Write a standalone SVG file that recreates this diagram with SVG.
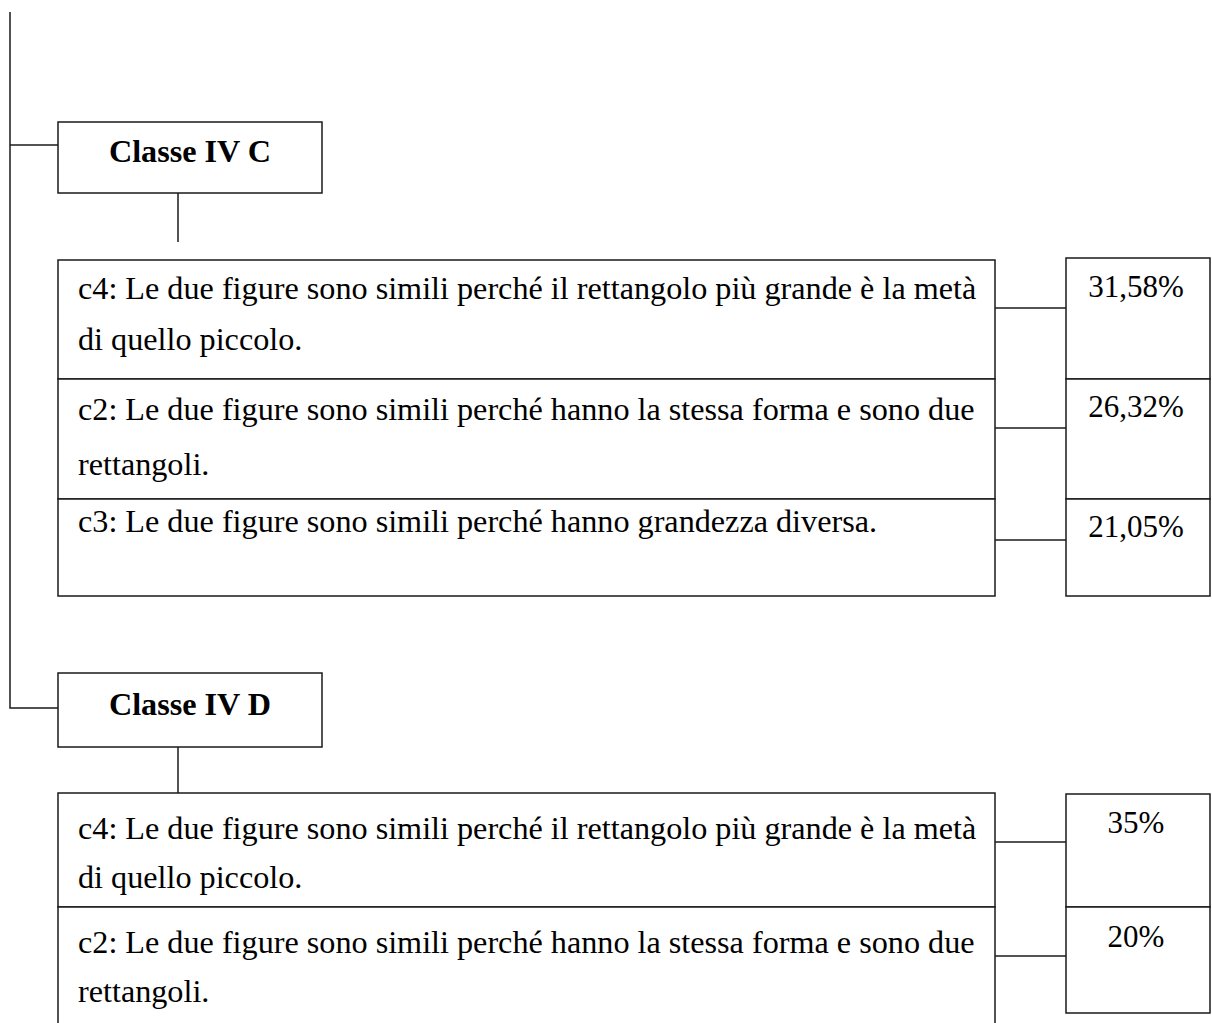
<svg xmlns="http://www.w3.org/2000/svg" width="1212" height="1023" viewBox="0 0 1212 1023">
<style>
.box{fill:#fff;stroke:#1a1a1a;stroke-width:1.5}
.ln{fill:none;stroke:#1a1a1a;stroke-width:1.5}
.t{font-family:"Liberation Serif","Times New Roman",serif;font-size:32.2px;fill:#000}
.b{font-weight:bold;text-anchor:middle}
.p{text-anchor:middle;font-size:31px}
</style>
<rect width="1212" height="1023" fill="#fff"/>
<g id="connectors">
<path class="ln" d="M10,12 V708 H58"/>
<path class="ln" d="M10,145 H58"/>
<path class="ln" d="M178,193 V242"/>
<path class="ln" d="M178,747 V793"/>
<path class="ln" d="M995,308 H1066"/>
<path class="ln" d="M995,428 H1066"/>
<path class="ln" d="M995,540 H1066"/>
<path class="ln" d="M995,842 H1066"/>
<path class="ln" d="M995,956 H1066"/>
</g>
<g id="classe-iv-c">
<rect class="box" x="58" y="122" width="264" height="71"/>
<text class="t b" x="190" y="162">Classe IV C</text>
</g>
<g id="c-row-c4">
<rect class="box" x="58" y="260" width="937" height="119"/>
<text class="t" x="78" y="299">c4: Le due figure sono simili perché il rettangolo più grande è la metà</text>
<text class="t" x="78" y="350">di quello piccolo.</text>
</g>
<g id="c-row-c2">
<rect class="box" x="58" y="379" width="937" height="120"/>
<text class="t" x="78" y="420">c2: Le due figure sono simili perché hanno la stessa forma e sono due</text>
<text class="t" x="78" y="475">rettangoli.</text>
</g>
<g id="c-row-c3">
<rect class="box" x="58" y="499" width="937" height="97"/>
<text class="t" x="78" y="532">c3: Le due figure sono simili perché hanno grandezza diversa.</text>
</g>
<g id="c-pct-c4">
<rect class="box" x="1066" y="258" width="144" height="121"/>
<text class="t p" x="1136" y="297">31,58%</text>
</g>
<g id="c-pct-c2">
<rect class="box" x="1066" y="379" width="144" height="120"/>
<text class="t p" x="1136" y="417">26,32%</text>
</g>
<g id="c-pct-c3">
<rect class="box" x="1066" y="499" width="144" height="97"/>
<text class="t p" x="1136" y="537">21,05%</text>
</g>
<g id="classe-iv-d">
<rect class="box" x="58" y="673" width="264" height="74"/>
<text class="t b" x="190" y="715">Classe IV D</text>
</g>
<g id="d-row-c4">
<rect class="box" x="58" y="793" width="937" height="114"/>
<text class="t" x="78" y="839">c4: Le due figure sono simili perché il rettangolo più grande è la metà</text>
<text class="t" x="78" y="888">di quello piccolo.</text>
</g>
<g id="d-row-c2">
<rect class="box" x="58" y="907" width="937" height="130"/>
<text class="t" x="78" y="953">c2: Le due figure sono simili perché hanno la stessa forma e sono due</text>
<text class="t" x="78" y="1002">rettangoli.</text>
</g>
<g id="d-pct-c4">
<rect class="box" x="1066" y="794" width="144" height="113"/>
<text class="t p" x="1136" y="833">35%</text>
</g>
<g id="d-pct-c2">
<rect class="box" x="1066" y="907" width="144" height="106"/>
<text class="t p" x="1136" y="947">20%</text>
</g>
</svg>
